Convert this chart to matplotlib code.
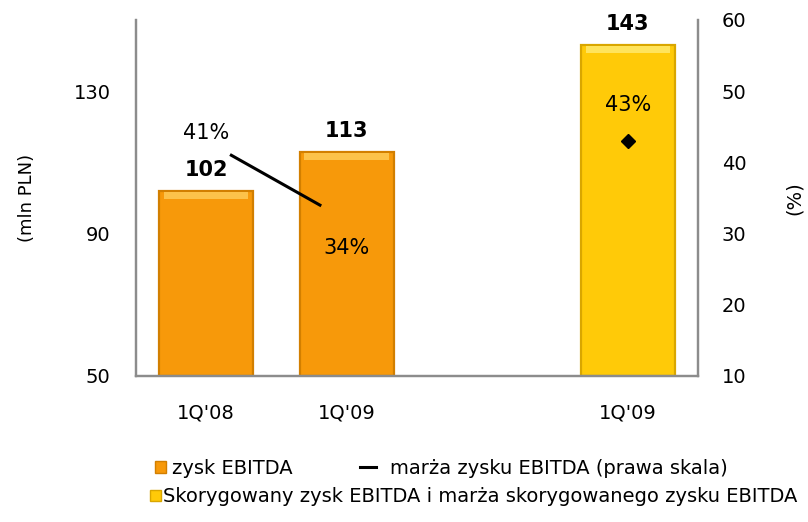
import numpy as np
import matplotlib; matplotlib.use("Agg")
import matplotlib.pyplot as plt
from matplotlib.patches import Patch
from matplotlib.lines import Line2D

plt.rcParams.update({"font.family": ["DejaVu Sans"]})

# data
categories = ["1Q'08", "1Q'09", "", "1Q'09"]
ebitda = [102, 113, None, 143]
margin = [41, 34]          # line, right axis
adj_margin = 43            # adjusted margin marker, right axis
colors = ["#F7990A", "#F7990A", None, "#FFCA08"]
edges = ["#D27F00", "#D27F00", None, "#D9A600"]
highlights = ["#FCC24A", "#FCC24A", None, "#FFE45C"]
legend_labels = ["zysk EBITDA", "marża zysku EBITDA (prawa skala)",
                 "Skorygowany zysk EBITDA i marża skorygowanego zysku EBITDA"]

fig = plt.figure(figsize=(8.08, 5.22), dpi=100)
ax = fig.add_axes([0.168, 0.2797, 0.696, 0.682])
ax2 = ax.twinx()

x = np.arange(len(categories))
for i, v in enumerate(ebitda):
    if v is None:
        continue
    ax.bar(x[i], v - 50, bottom=50, width=0.67, color=colors[i],
           edgecolor=edges[i], linewidth=1.6, zorder=2)
    # bevel-like highlight along the top of the bar
    ax.bar(x[i], 1.8, bottom=v - 2.2, width=0.6, color=highlights[i],
           linewidth=0, zorder=3)
    ax.annotate(f"{v}", (x[i], v), xytext=(0, 8), textcoords="offset points",
                ha="center", va="bottom", fontsize=15, fontweight="bold")

ax.set_xlim(-0.5, 3.5)
ax.set_ylim(50, 150)
ax.set_yticks([50, 90, 130])
ax.set_xticks(x)
ax.set_xticklabels(categories)
ax.tick_params(axis="both", length=0, labelsize=14)
ax.tick_params(axis="y", pad=18)
ax.tick_params(axis="x", pad=20)
ax.set_ylabel("(mln PLN)", fontsize=13, labelpad=27)

ax2.set_ylim(10, 60)
ax2.set_yticks([10, 20, 30, 40, 50, 60])
ax2.tick_params(axis="y", length=0, labelsize=14, pad=17)
ax2.set_ylabel("(%)", fontsize=14, rotation=90, labelpad=28)

# margin line (shortened between the two bars)
ax2.plot([x[0] + 0.18, x[1] - 0.19], margin, color="black", lw=2.2, zorder=5)
ax2.plot([x[3]], [adj_margin], marker="D", ms=7, color="black", zorder=5)
ax2.text(x[0], margin[0] + 3.1, f"{margin[0]}%", ha="center", va="center", fontsize=15)
ax2.text(x[1], margin[1] - 6, f"{margin[1]}%", ha="center", va="center", fontsize=15)
ax2.text(x[3], adj_margin + 5, f"{adj_margin}%", ha="center", va="center", fontsize=15)

for a in (ax, ax2):
    a.spines["top"].set_visible(False)
    for s in ("left", "right", "bottom"):
        a.spines[s].set_color("#8C8C8C")
        a.spines[s].set_linewidth(1.6)
ax.set_zorder(1)
ax2.set_zorder(3)
ax2.patch.set_visible(False)

handles = [Patch(facecolor="#F7990A", edgecolor="#D27F00"),
           Line2D([], [], color="black", lw=2.2),
           Patch(facecolor="#FFCA08", edgecolor="#D9A600")]
spots = [(0.192, 0.1034, 0.55, 0.3), (0.4455, 0.1034, 0.85, 0.7),
         (0.1856, 0.0479, 0.55, 0.1)]
for h, lab, (lx, ly, hl, tp) in zip(handles, legend_labels, spots):
    fig.legend([h], [lab], loc="center left", bbox_to_anchor=(lx, ly),
               frameon=False, fontsize=14, handlelength=hl, handleheight=0.55,
               handletextpad=tp, borderaxespad=0, borderpad=0)

fig.savefig("out.png", dpi=100)
